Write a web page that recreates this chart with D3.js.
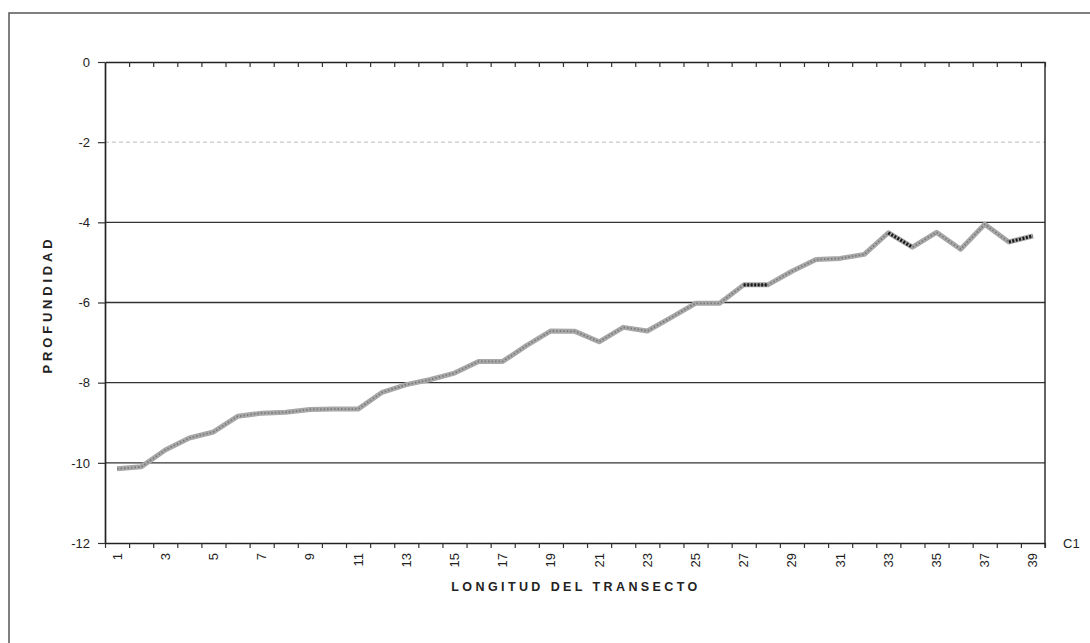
<!DOCTYPE html>
<html>
<head>
<meta charset="utf-8">
<script src="https://cdnjs.cloudflare.com/ajax/libs/d3/7.8.5/d3.min.js"></script>
<style>
  body { margin: 0; background: #fff; }
  svg text { font-family: "Liberation Sans", Arial, sans-serif; fill: #222; }
</style>
</head>
<body>
<div id="chart"></div>
<script>
// transect positions (category axis) and depth values
const positions = d3.range(1, 40)
const depths = [-10.15, -10.1, -9.68, -9.38, -9.23, -8.84, -8.76, -8.74, -8.67, -8.66,
  -8.66, -8.24, -8.05, -7.92, -7.76, -7.47, -7.47, -7.07, -6.71, -6.72,
  -6.98, -6.62, -6.71, -6.37, -6.02, -6.02, -5.56, -5.56, -5.22, -4.93,
  -4.9, -4.8, -4.26, -4.62, -4.25, -4.67, -4.05, -4.49, -4.34]
// segments drawn dark / dotted in the original (start position of each)
const darkSegments = [27, 33, 38]
const yTicks = [0, -2, -4, -6, -8, -10, -12]
const xLabels = positions.filter(p => p % 2 === 1)

const W = 1090, H = 643
const plot = {left: 105, right: 1045, top: 62, bottom: 543}

let svg = d3.select("#chart").append("svg")
  .attr("width", W).attr("height", H)

// outer chart border (right and bottom cut off in the scan)
svg.append("path")
  .attr("d", "M9,660 L9,13 L1100,13")
  .attr("fill", "none").attr("stroke", "#555").attr("stroke-width", 1.5)

let xScale = d3.scaleLinear().domain([0.5, 39.5]).range([plot.left, plot.right])
let yScale = d3.scaleLinear().domain([-12, 0]).range([plot.bottom, plot.top])

// horizontal gridlines
svg.append("g").selectAll("line").data(yTicks.filter(v => v !== 0 && v !== -12)).enter()
  .append("line")
  .attr("x1", plot.left).attr("x2", plot.right)
  .attr("y1", d => yScale(d)).attr("y2", d => yScale(d))
  .attr("stroke", d => d === -2 ? "#bdbdbd" : "#333")
  .attr("stroke-dasharray", d => d === -2 ? "4,3" : null)
  .attr("stroke-width", d => d === -2 ? 1 : 1.3)

// right border of plot area
svg.append("line")
  .attr("x1", plot.right).attr("x2", plot.right)
  .attr("y1", plot.top).attr("y2", plot.bottom + 5)
  .attr("stroke", "#222").attr("stroke-width", 1.4)

// category boundaries for tick marks
let boundaries = d3.range(0.5, 40, 1)

// top axis at depth 0, ticks pointing into the plot
let topAxis = svg.append("g")
  .attr("transform", "translate(0," + yScale(0) + ")")
  .call(d3.axisBottom(xScale).tickValues(boundaries.slice(1)).tickFormat("").tickSize(5).tickSizeOuter(0))
topAxis.select(".domain").attr("stroke", "#222").attr("stroke-width", 1.7)
topAxis.selectAll(".tick line").attr("stroke", "#333").attr("stroke-width", 1.2)

// bottom axis with ticks below
let bottomAxis = svg.append("g")
  .attr("transform", "translate(0," + yScale(-12) + ")")
  .call(d3.axisBottom(xScale).tickValues(boundaries).tickFormat("").tickSize(5).tickSizeOuter(0))
bottomAxis.select(".domain").attr("stroke", "#222").attr("stroke-width", 1.7)
bottomAxis.selectAll(".tick line").attr("stroke", "#333").attr("stroke-width", 1.2)

// rotated category labels
svg.append("g").selectAll("text").data(xLabels).enter()
  .append("text")
  .attr("transform", d => "translate(" + (xScale(d) + 4.5) + "," + (yScale(-12) + 10) + ") rotate(-90)")
  .attr("text-anchor", "end")
  .style("font-size", "13px")
  .text(d => d)

// left axis
let yAxis = svg.append("g")
  .attr("transform", "translate(" + plot.left + ",0)")
  .call(d3.axisLeft(yScale).tickValues(yTicks).tickFormat(d => String(d)).tickSize(7).tickSizeOuter(0).tickPadding(8))
yAxis.select(".domain").attr("stroke", "#222").attr("stroke-width", 1.7)
yAxis.selectAll(".tick line").attr("stroke", "#333").attr("stroke-width", 1.2)
yAxis.selectAll(".tick text").style("font-size", "13px").attr("fill", "#222")
  .style("font-family", "'Liberation Sans', Arial, sans-serif")

// depth profile line
let points = positions.map((p, i) => ({pos: p, depth: depths[i]}))
let line = d3.line().x(d => xScale(d.pos)).y(d => yScale(d.depth))

svg.append("path").datum(points)
  .attr("d", line)
  .attr("fill", "none").attr("stroke", "#a8a8a8").attr("stroke-width", 5)
  .attr("stroke-linejoin", "round")
svg.append("path").datum(points)
  .attr("d", line)
  .attr("fill", "none").attr("stroke", "#7a7a7a").attr("stroke-width", 1.8)
  .attr("stroke-dasharray", "1.5,2")

// darker dotted pieces
svg.append("g").selectAll("path").data(darkSegments).enter()
  .append("path")
  .attr("d", s => line(points.slice(s - 1, s + 1)))
  .attr("fill", "none").attr("stroke", "#1a1a1a").attr("stroke-width", 3.2)
  .attr("stroke-dasharray", "2,1.5")

// axis titles
svg.append("text")
  .attr("transform", "translate(52," + ((plot.top + plot.bottom) / 2 + 2) + ") rotate(-90)")
  .attr("text-anchor", "middle")
  .style("font-size", "13px").style("font-weight", "bold").style("letter-spacing", "3.8px")
  .text("PROFUNDIDAD")

svg.append("text")
  .attr("x", 576).attr("y", 591)
  .attr("text-anchor", "middle")
  .style("font-size", "12.5px").style("font-weight", "bold").style("letter-spacing", "3.4px")
  .text("LONGITUD DEL TRANSECTO")

// series name next to the axis end
svg.append("text")
  .attr("x", 1063).attr("y", yScale(-12) + 5)
  .style("font-size", "13px")
  .text("C1")
</script>
</body>
</html>
